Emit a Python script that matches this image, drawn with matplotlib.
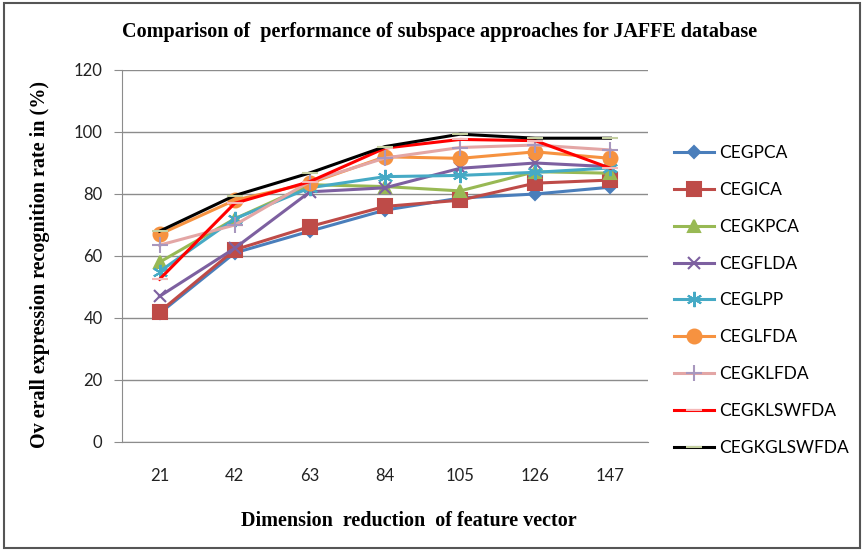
import matplotlib.pyplot as plt
from matplotlib.patches import Rectangle

# categories on the x axis
dims = ['21', '42', '63', '84', '105', '126', '147']

# recognition rates (%)
cegpca = [41.5, 61, 68, 74.8, 78.7, 80, 82.2]
cegica = [42, 62, 69.5, 76, 78, 83.5, 84.5]
cegkpca = [58, 72, 83, 82.4, 81, 87.2, 86.7]
cegflda = [47, 62.5, 80.7, 82, 88.3, 90, 88.8]
ceglpp = [55, 72, 82, 85.6, 86, 87, 88.4]
ceglfda = [67, 78, 83.5, 92, 91.5, 93.6, 91.5]
cegklfda = [63.5, 70, 84, 91.6, 95, 95.8, 94.2]
cegklswfda = [52.5, 77, 84, 94.8, 97.6, 97.2, 88.3]
cegkglswfda = [68, 79.5, 86.8, 95.3, 99.3, 98, 98]

names = ['CEGPCA', 'CEGICA', 'CEGKPCA', 'CEGFLDA', 'CEGLPP', 'CEGLFDA',
         'CEGKLFDA', 'CEGKLSWFDA', 'CEGKGLSWFDA']
series = [cegpca, cegica, cegkpca, cegflda, ceglpp, ceglfda,
          cegklfda, cegklswfda, cegkglswfda]

# line colour, marker, marker size, marker colour
styles = [
    ('#4A7EBB', 'D', 6, '#4A7EBB'),
    ('#BE4B48', 's', 10, '#BE4B48'),
    ('#98B954', '^', 8, '#98B954'),
    ('#7D60A0', 'x', 9, '#7D60A0'),
    ('#46AAC5', (6, 2, 0), 11, '#46AAC5'),
    ('#F69240', 'o', 10, '#F69240'),
    ('#E3A6A5', '+', 11, '#A897BE'),
    ('#FF0000', '_', 12, '#F5B8B8'),
    ('#000000', '_', 12, '#C4CFA0'),
]

fig = plt.figure(figsize=(8.64, 5.51), dpi=100)
ax = fig.add_axes([122 / 864, 109 / 551, 526 / 864, 372 / 551])

x = range(len(dims))
for name, vals, (c, m, ms, mc) in zip(names, series, styles):
    ax.plot(x, vals, color=c, linewidth=2.2, marker=m, markersize=ms,
            markerfacecolor=mc, markeredgecolor=mc, markeredgewidth=1.5,
            label=name)

ax.set_xlim(-0.5, 6.5)
ax.set_ylim(0, 120)
ax.set_yticks(range(0, 121, 20))
ax.set_xticks(list(x))
ax.set_xticklabels(dims)
ax.yaxis.grid(True, color='#8c8c8c', linewidth=1)
ax.set_axisbelow(True)
for s in ['top', 'right']:
    ax.spines[s].set_visible(False)
for s in ['left', 'bottom']:
    ax.spines[s].set_color('#8c8c8c')
ax.tick_params(axis='y', length=6, color='#8c8c8c', labelsize=12,
               labelcolor='#222222', pad=8)
ax.tick_params(axis='x', length=0, labelsize=12, labelcolor='#222222', pad=19)
for lab in ax.get_xticklabels() + ax.get_yticklabels():
    lab.set_fontfamily('Lato')

ax.set_xlabel('Dimension  reduction  of feature vector', fontsize=14.5,
              fontweight='bold', family='Liberation Serif')
ax.xaxis.set_label_coords(0.546, -0.185)
ax.set_ylabel('Ov erall expression recognition rate in (%)', fontsize=14.5,
              fontweight='bold', family='Liberation Serif')
ax.yaxis.set_label_coords(-0.137, 0.476)
fig.text(440 / 864, 1 - 32 / 551,
         'Comparison of  performance of subspace approaches for JAFFE database',
         ha='center', va='center', fontsize=14.5, fontweight='bold',
         family='Liberation Serif')

ax.legend(loc='upper left', bbox_to_anchor=(1.02, 0.84), frameon=False,
          labelspacing=1.2, handlelength=2.3, handletextpad=0.3,
          prop={'family': 'Lato', 'size': 12.5})

# outer chart border
fig.patches.append(Rectangle((4 / 864, 3 / 551), 856 / 864, 545 / 551,
                             transform=fig.transFigure, fill=False,
                             edgecolor='#555555', linewidth=1.5))

plt.savefig('out.png')
